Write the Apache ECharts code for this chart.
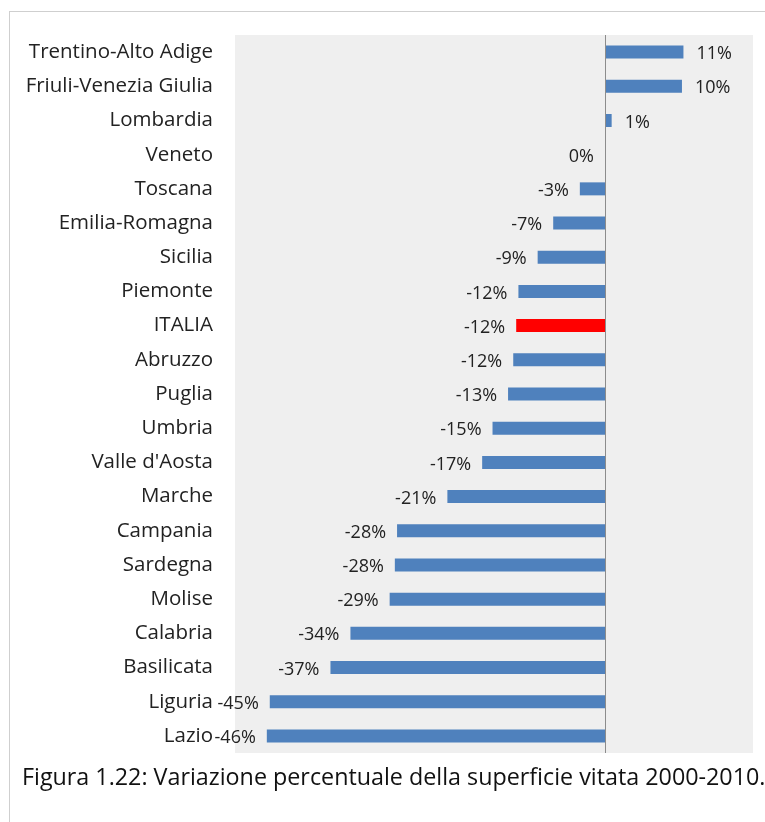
<!DOCTYPE html>
<html>
<head>
<meta charset="utf-8">
<script src="https://cdn.jsdelivr.net/npm/echarts@6/dist/echarts.min.js"></script>
<style>
  html, body { margin: 0; padding: 0; background: #fff; }
  #frame { position: absolute; left: 9px; top: 11px; right: 0; bottom: 0;
           border-top: 1px solid #cfcfcf; border-left: 1px solid #cfcfcf; }
  #chart { position: absolute; left: 0; top: 0; width: 765px; height: 822px; }
  #caption { position: absolute; left: 22px; top: 760px; font-family: "Open Sans", "Noto Sans", sans-serif;
             font-size: 23.3px; color: #111; white-space: nowrap; }
</style>
</head>
<body>
<div id="frame"></div>
<div id="chart"></div>
<div id="caption">Figura 1.22: Variazione percentuale della superficie vitata 2000-2010.</div>
<script>
// Regions, top to bottom
const regions = [
  'Trentino-Alto Adige', 'Friuli-Venezia Giulia', 'Lombardia', 'Veneto', 'Toscana',
  'Emilia-Romagna', 'Sicilia', 'Piemonte', 'ITALIA', 'Abruzzo', 'Puglia', 'Umbria',
  "Valle d'Aosta", 'Marche', 'Campania', 'Sardegna', 'Molise', 'Calabria',
  'Basilicata', 'Liguria', 'Lazio'
];
// Percentage change in vineyard area 2000-2010
const changePct = [
  10.6, 10.4, 0.9, 0, -3.4,
  -7.0, -9.1, -11.7, -12.0, -12.4, -13.1, -15.2,
  -16.6, -21.3, -28.1, -28.4, -29.1, -34.4,
  -37.1, -45.3, -45.7
];
const highlight = 'ITALIA';
const axisMin = -50;
const axisMax = 20;

const chart = echarts.init(document.getElementById('chart'), null, { renderer: 'canvas' });

// zero and negative values carry their label on the left of the bar
const data = regions.map((name, i) => {
  const v = changePct[i];
  const leftSide = v <= 0;
  return {
    value: v,
    itemStyle: { color: name === highlight ? '#ff0000' : '#4f81bd' },
    label: { position: leftSide ? 'left' : 'right', distance: leftSide ? 11 : 13 }
  };
});

chart.setOption({
  animation: false,
  grid: {
    left: 235, right: 12, top: 35, bottom: 69,
    show: true, backgroundColor: '#efefef', borderWidth: 0
  },
  xAxis: {
    type: 'value', min: axisMin, max: axisMax,
    axisLine: { show: false }, axisTick: { show: false },
    axisLabel: { show: false }, splitLine: { show: false }
  },
  yAxis: {
    type: 'category', data: regions, inverse: true,
    axisLine: { show: false }, axisTick: { show: false },
    axisLabel: {
      margin: 22, fontFamily: 'Open Sans', fontSize: 20.5, color: '#222222'
    }
  },
  series: [{
    type: 'bar',
    data: data,
    barWidth: 13,
    label: {
      show: true,
      fontFamily: 'Open Sans', fontSize: 18, color: '#222222',
      offset: [0, 2],
      formatter: p => Math.round(p.value) + '%'
    },
    markLine: {
      silent: true, symbol: 'none',
      label: { show: false },
      lineStyle: { color: '#8c8c8c', type: 'solid', width: 1 },
      data: [{ xAxis: 0 }]
    }
  }]
});
</script>
</body>
</html>
